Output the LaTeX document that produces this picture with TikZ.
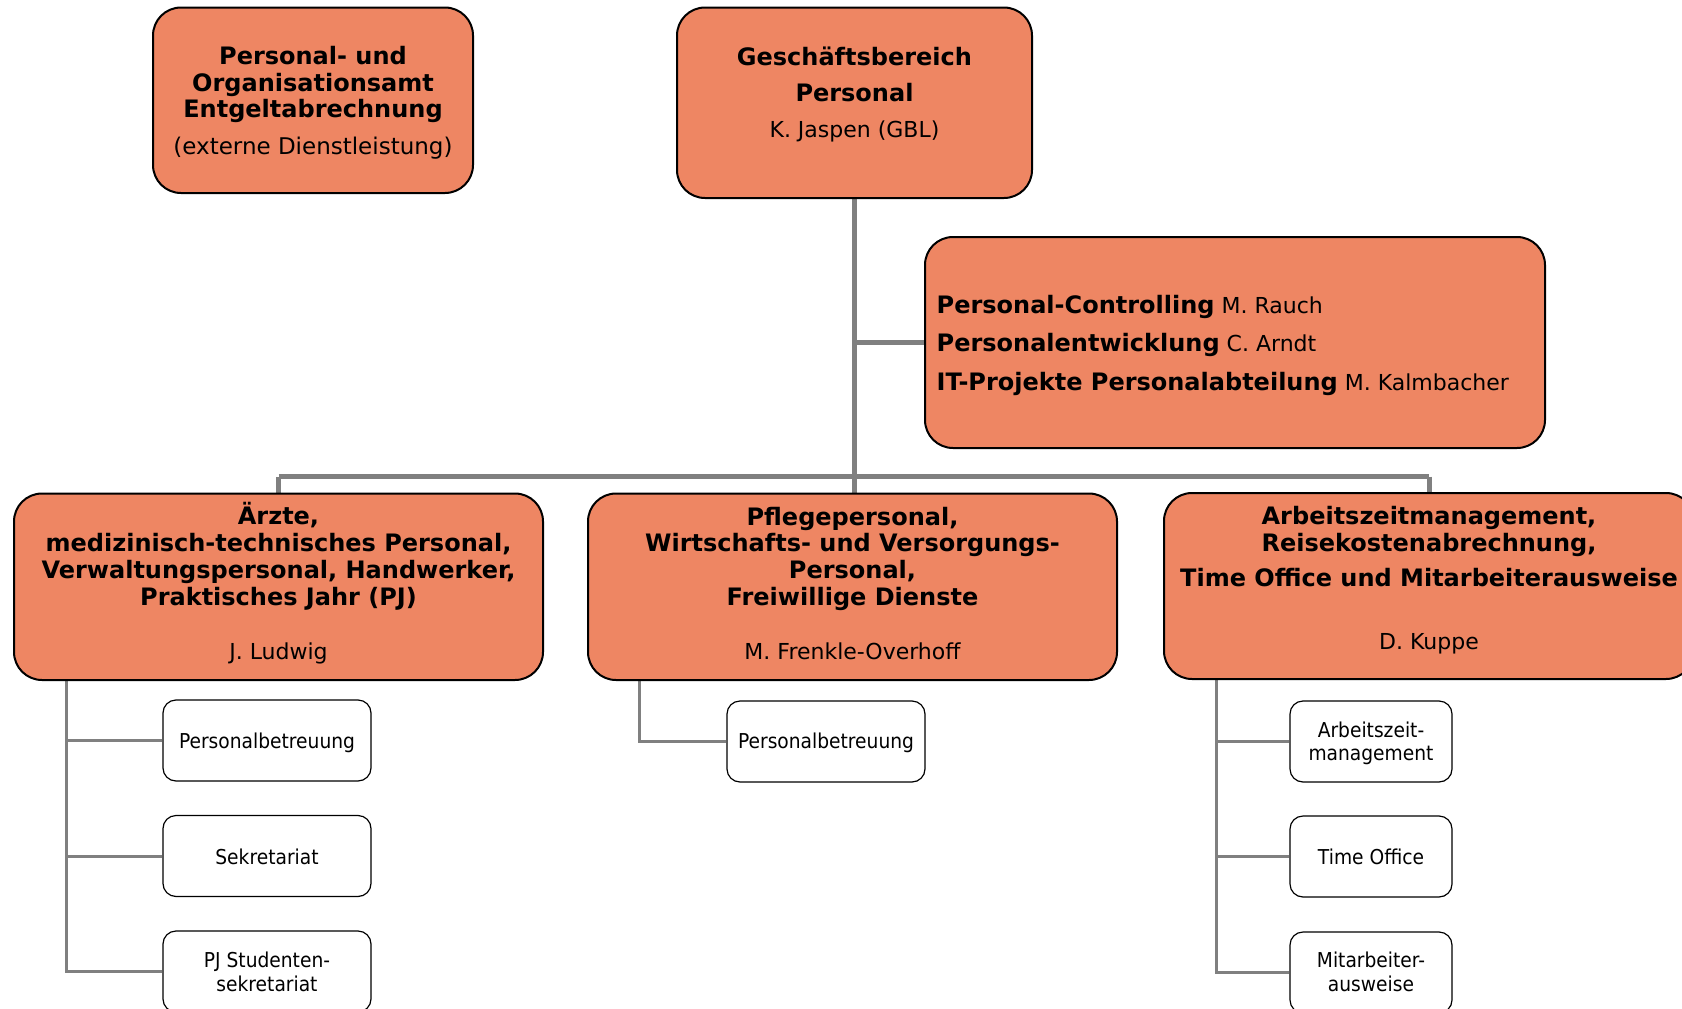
\documentclass[tikz,border=0pt]{standalone}
\usepackage{fontspec}
\setmainfont{DejaVu Sans}
\newfontfamily\smallfont{DejaVu Sans}[FakeStretch=0.91]
\usetikzlibrary{backgrounds}
\definecolor{boxorange}{RGB}{238,134,99}
\definecolor{linegrey}{RGB}{128,128,128}
\begin{document}
\begin{tikzpicture}[x=1pt,y=-1pt,
  bigbox/.style={draw=black, line width=2pt, fill=boxorange, rounded corners=28pt, inner sep=0pt},
  smallbox/.style={draw=black, line width=1.2pt, fill=white, rounded corners=13pt, inner sep=0pt, minimum height=81pt},
  hd/.style={anchor=base, inner sep=0pt, font=\fontsize{24}{27}\selectfont\bfseries},
  nm/.style={anchor=base, inner sep=0pt, font=\fontsize{22}{25}\selectfont},
  sm/.style={anchor=base, inner sep=0pt, font=\fontsize{20.5}{24}\smallfont},
  mainline/.style={draw=linegrey, line width=5pt},
  subline/.style={draw=linegrey, line width=3pt}]
\clip (0,0) rectangle (1682,1009);
% big boxes
\node[bigbox, minimum width=320pt, minimum height=185.5pt] (A) at (313,100.25) {};
\node[bigbox, minimum width=355pt, minimum height=190.5pt] (GB) at (854.5,102.75) {};
\node[bigbox, minimum width=620pt, minimum height=211pt] (PC) at (1235,342.5) {};
\node[bigbox, minimum width=529pt, minimum height=186.5pt] (L) at (278.5,586.75) {};
\node[bigbox, minimum width=529pt, minimum height=186.5pt] (M) at (852.5,586.75) {};
\node[bigbox, minimum width=530pt, minimum height=186pt] (R) at (1429,586) {};
% small boxes
\node[smallbox, minimum width=208pt] (L1) at (267,740.5) {};
\node[smallbox, minimum width=208pt] (L2) at (267,856) {};
\node[smallbox, minimum width=208pt] (L3) at (267,971.5) {};
\node[smallbox, minimum width=198pt] (M1) at (826,741.5) {};
\node[smallbox, minimum width=162pt] (R1) at (1371,741.5) {};
\node[smallbox, minimum width=162pt] (R2) at (1371,856.5) {};
\node[smallbox, minimum width=162pt] (R3) at (1371,972.5) {};
% texts box A
\node[hd] (a1) at (313,64) {Personal- und};
\node[hd] (a2) at (313,91) {Organisationsamt};
\node[hd] (a3) at (313,117) {Entgeltabrechnung};
\node[nm, font=\fontsize{23}{27}\selectfont] (a4) at (313,154) {(externe Dienstleistung)};
% GB
\node[hd] (g1) at (854.5,65) {Geschäftsbereich};
\node[hd] (g2) at (854.5,101.5) {Personal};
\node[nm] (g3) at (854.5,137) {K. Jaspen (GBL)};
% PC
\node[nm, anchor=base west] (p1) at (936.5,313) {{\fontsize{24}{27}\selectfont\bfseries Personal-Controlling} M. Rauch};
\node[nm, anchor=base west] (p2) at (936.5,351.5) {{\fontsize{24}{27}\selectfont\bfseries Personalentwicklung} C. Arndt};
\node[nm, anchor=base west] (p3) at (936.5,390) {{\fontsize{24}{27}\selectfont\bfseries IT-Projekte Personalabteilung} M. Kalmbacher};
% L
\node[hd] (l1) at (278.5,524) {Ärzte,};
\node[hd] (l2) at (278.5,551.5) {medizinisch-technisches Personal,};
\node[hd] (l3) at (278.5,578.5) {Verwaltungspersonal, Handwerker,};
\node[hd] (l4) at (278.5,605) {Praktisches Jahr (PJ)};
\node[nm] (l5) at (278.5,659) {J. Ludwig};
% M
\node[hd] (m1) at (852.5,525) {Pflegepersonal,};
\node[hd] (m2) at (852.5,551.5) {Wirtschafts- und Versorgungs-};
\node[hd] (m3) at (852.5,578.5) {Personal,};
\node[hd] (m4) at (852.5,605.5) {Freiwillige Dienste};
\node[nm] (m5) at (852.5,659) {M. Frenkle-Overhoff};
% R
\node[hd] (r1) at (1429,524.5) {Arbeitszeitmanagement,};
\node[hd] (r2) at (1429,551) {Reisekostenabrechnung,};
\node[hd] (r3) at (1429,586) {Time Office und Mitarbeiterausweise};
\node[nm] (r4) at (1429,649) {D. Kuppe};
% small texts
\node[sm] (t1) at (267,748) {Personalbetreuung};
\node[sm] (t2) at (267,864) {Sekretariat};
\node[sm] (t3) at (267,967.5) {PJ Studenten-};
\node[sm] (t4) at (267,991) {sekretariat};
\node[sm] (t5) at (826,748.5) {Personalbetreuung};
\node[sm] (t6) at (1371,737) {Arbeitszeit-};
\node[sm] (t7) at (1371,760.5) {management};
\node[sm] (t8) at (1371,864.5) {Time Office};
\node[sm] (t9) at (1371,967.5) {Mitarbeiter-};
\node[sm] (t10) at (1371,991) {ausweise};
% connectors
\begin{scope}[on background layer]
\coordinate (bus) at (0,476.5);
\draw[mainline] (GB.south) -- (GB.south |- M.north);
\draw[mainline] (GB.south |- PC.west) -- (PC.west);
\draw[mainline] (L.north |- bus) -- (R.north |- bus);
\draw[mainline] (L.north |- bus) -- (L.north);
\draw[mainline] (R.north |- bus) -- (R.north);
\coordinate (sL) at ([xshift=53pt]L.south west);
\coordinate (sM) at ([xshift=52pt]M.south west);
\coordinate (sR) at ([xshift=53.5pt]R.south west);
\draw[subline] (sL) |- (L3.west);
\draw[subline] (sL |- L1.west) -- (L1.west);
\draw[subline] (sL |- L2.west) -- (L2.west);
\draw[subline] (sM) |- (M1.west);
\draw[subline] (sR) |- (R3.west);
\draw[subline] (sR |- R1.west) -- (R1.west);
\draw[subline] (sR |- R2.west) -- (R2.west);
\end{scope}
\end{tikzpicture}
\end{document}
